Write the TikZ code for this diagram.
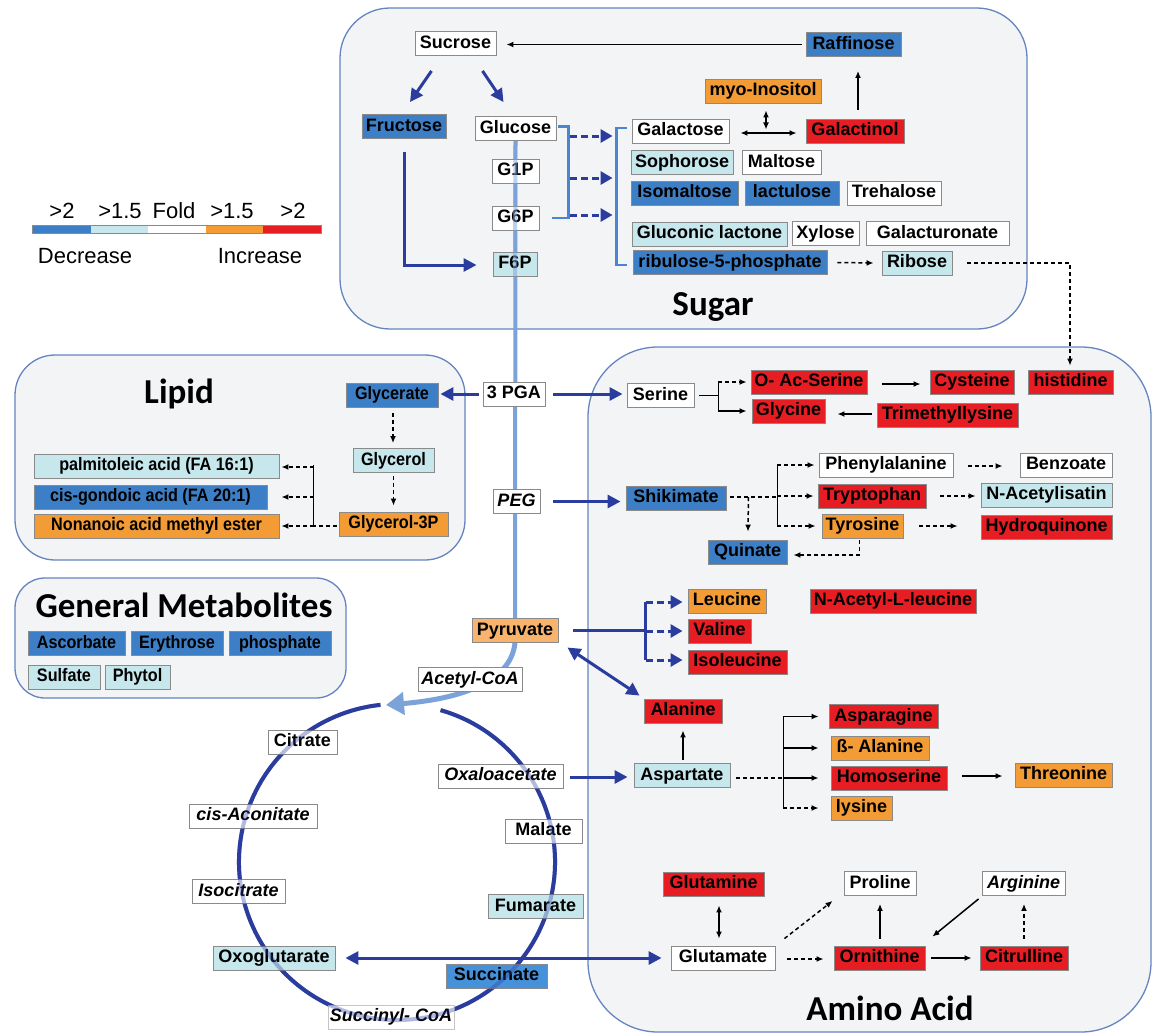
\documentclass[tikz,border=0pt]{standalone}
\usepackage{fontspec}
\usepackage{graphicx}
\setmainfont{Liberation Sans}
\newfontfamily\titlefont{Carlito}
\usetikzlibrary{arrows.meta,calc,backgrounds}
\definecolor{mblue}{HTML}{3D7FC7}
\definecolor{lblue}{HTML}{C6E7EC}
\definecolor{orng}{HTML}{F39B34}
\definecolor{rd}{HTML}{E61E24}
\definecolor{pyrc}{HTML}{F8B46C}
\definecolor{succ}{HTML}{4592DA}
\definecolor{bgray}{HTML}{8A8A8A}
\definecolor{regfill}{HTML}{F3F4F6}
\definecolor{regline}{HTML}{6584C0}
\definecolor{dblue}{HTML}{2A3C9E}
\definecolor{brblue}{HTML}{4A85CF}
\definecolor{pathblue}{HTML}{7CA2DA}
\newcommand{\nar}[1]{\scalebox{0.9}[1]{#1}}
\begin{document}
\begin{tikzpicture}[x=1pt,y=-1pt,
  lab/.style={font=\fontsize{18}{21}\selectfont\bfseries},
  box/.style={draw=bgray, line width=0.9pt, minimum height=24pt, inner sep=0pt,
              text height=13pt, text depth=3.5pt, lab},
  bw/.style={minimum width=#1pt},
  cw/.style={box, fill=white},
  clb/.style={box, fill=lblue},
  cmb/.style={box, fill=mblue},
  cor/.style={box, fill=orng},
  crd/.style={box, fill=rd},
  itl/.style={font=\fontsize{18}{21}\selectfont\bfseries\itshape},
  region/.style={draw=regline, line width=1.3pt, fill=regfill},
  ttl/.style={font=\titlefont\fontsize{35}{40}\selectfont\bfseries, anchor=base, inner sep=0pt},
  leg/.style={font=\fontsize{22}{26}\selectfont, anchor=base, inner sep=0pt},
  bk/.style={line width=1.5pt, -{Latex[length=7pt,width=6pt]}},
  bkd/.style={bk, dash pattern=on 4pt off 3pt},
  bkdbl/.style={line width=1.5pt, {Latex[length=7pt,width=6pt]}-{Latex[length=7pt,width=6pt]}},
  ba/.style={draw=dblue, line width=3pt, -{Triangle[length=13pt,width=13pt]}},
  badbl/.style={draw=dblue, line width=3pt, {Triangle[length=13pt,width=13pt]}-{Triangle[length=13pt,width=13pt]}},
  bad/.style={draw=dblue, line width=3pt, dash pattern=on 7pt off 4pt, -{Triangle[length=12pt,width=13pt]}},
  bline/.style={draw=dblue, line width=3pt},
  kline/.style={line width=1.5pt},
  brk/.style={draw=brblue, line width=2.5pt}
]
\useasboundingbox (0,0) rectangle (1152,1034);

% ---------- legend ----------
\node[leg] (l1) at (62,218) {>2};
\node[leg] (l2) at (120,218) {>1.5};
\node[leg] (l3) at (174,218) {Fold};
\node[leg] (l4) at (232,218) {>1.5};
\node[leg] (l5) at (293,218) {>2};
\node[leg] (l6) at (85,263) {Decrease};
\node[leg] (l7) at (260,263) {Increase};
\fill[mblue] (32,225) rectangle (91,233);
\fill[lblue] (91,225) rectangle (148,233);
\fill[white] (148,225) rectangle (206,233);
\fill[orng] (206,225) rectangle (263,233);
\fill[rd] (263,225) rectangle (321,233);
\draw[bgray, line width=0.8pt] (32,225) rectangle (321,233);

% ---------- titles ----------
\node[ttl] (tsug) at (713,315) {Sugar};
\node[ttl] (tlip) at (179,403) {Lipid};
\node[ttl] (tgen) at (184,617) {General Metabolites};
\node[ttl] (tami) at (890,1020) {Amino Acid};

% ---------- sugar ----------
\node[cw, bw=81] (suc) at (455.5,43.5) {Sucrose};
\node[cmb, bw=95] (raf) at (853.5,44.5) {Raffinose};
\node[cor, bw=116] (myo) at (763,91) {myo-Inositol};
\node[cmb, bw=84] (fru) at (404,126.5) {Fructose};
\node[cw, bw=81] (glc) at (515.5,128.5) {Glucose};
\node[cw, bw=47] (g1p) at (515.5,171) {G1P};
\node[cw, bw=47] (g6p) at (515.5,218) {G6P};
\node[clb, bw=44] (f6p) at (515,264) {F6P};
\node[cw, bw=97] (gal) at (680.5,131) {Galactose};
\node[crd, bw=98] (gol) at (855,131) {Galactinol};
\node[clb, bw=102] (sop) at (682,162.5) {Sophorose};
\node[cw, bw=79] (mal) at (781.5,162.5) {Maltose};
\node[cmb, bw=107] (iso) at (684.5,193) {Isomaltose};
\node[cmb, bw=94] (lac) at (792,193) {lactulose};
\node[cw, bw=94] (tre) at (894,193) {Trehalose};
\node[clb, bw=155] (glcl) at (709.5,234) {Gluconic lactone};
\node[cw, bw=67] (xyl) at (825.5,233.5) {Xylose};
\node[cw, bw=143] (galu) at (937.5,233.5) {Galacturonate};
\node[cmb, bw=194] (r5p) at (730,262.5) {ribulose-5-phosphate};
\node[clb, bw=70] (rib) at (917,263) {Ribose};

% ---------- lipid ----------
\node[cmb, bw=92] (gly) at (392,395) {\nar{Glycerate}};
\node[clb, bw=81] (glo) at (393.5,460.5) {\nar{Glycerol}};
\node[cor, bw=109] (g3p) at (393.5,524) {\nar{Glycerol-3P}};
\node[clb, bw=245] (pal) at (156.5,466) {\nar{palmitoleic acid (FA 16:1)}};
\node[cmb, bw=233] (cis) at (150.5,497) {\nar{cis-gondoic acid (FA 20:1)}};
\node[cor, bw=245] (non) at (156.5,526) {\nar{Nonanoic acid methyl ester}};

% ---------- general ----------
\node[cmb, bw=97] (asc) at (76.5,643.5) {\nar{Ascorbate}};
\node[cmb, bw=92] (ery) at (177,643.5) {\nar{Erythrose}};
\node[cmb, bw=102] (pho) at (280,643.5) {\nar{phosphate}};
\node[clb, bw=72] (sul) at (64,677) {\nar{Sulfate}};
\node[clb, bw=65] (phy) at (137.5,677) {\nar{Phytol}};

% ---------- central ----------
\node[cw, bw=62] (pga) at (514,394) {3 PGA};
\node[cw, bw=47, itl] (peg) at (516.5,501.5) {PEG};
\node[box, fill=pyrc, bw=86] (pyr) at (515,630.5) {Pyruvate};
\node[cw, bw=104, itl] (acc) at (470,679.5) {Acetyl-CoA};

% ---------- amino acid ----------
\node[cw, bw=67] (ser) at (660.5,395.5) {Serine};
\node[crd, bw=116] (oac) at (809,382) {O- Ac-Serine};
\node[crd, bw=73] (gcn) at (788.5,411) {Glycine};
\node[crd, bw=84] (cys) at (972,382) {Cysteine};
\node[crd, bw=85] (his) at (1070.5,382) {histidine};
\node[crd, bw=141] (tml) at (947.5,415) {Trimethyllysine};
\node[cmb, bw=100] (shi) at (676,498) {Shikimate};
\node[cmb, bw=79] (qui) at (747.5,552) {Quinate};
\node[cw, bw=134] (phe) at (886,465) {Phenylalanine};
\node[crd, bw=108] (trp) at (872,496) {Tryptophan};
\node[cor, bw=81] (tyr) at (862.5,526) {Tyrosine};
\node[cw, bw=92] (ben) at (1066,465) {Benzoate};
\node[clb, bw=131] (nai) at (1046.5,495) {N-Acetylisatin};
\node[crd, bw=131] (hyd) at (1046.5,527) {Hydroquinone};
\node[cor, bw=78] (leu) at (727,601) {Leucine};
\node[crd, bw=63] (val) at (719.5,631) {Valine};
\node[crd, bw=99] (ile) at (737.5,662) {Isoleucine};
\node[crd, bw=166] (nal) at (893,601) {N-Acetyl-L-leucine};
\node[crd, bw=78] (ala) at (683,711) {Alanine};
\node[clb, bw=96] (asp) at (682,775.5) {Aspartate};
\node[crd, bw=109] (asn) at (883.5,716.5) {Asparagine};
\node[cor, bw=98] (bal) at (880,748) {ß- Alanine};
\node[crd, bw=116] (hse) at (889,778) {Homoserine};
\node[cor, bw=61] (lys) at (861.5,808) {lysine};
\node[cor, bw=97] (thr) at (1063.5,775) {Threonine};
\node[crd, bw=101] (gln) at (713.5,884) {Glutamine};
\node[cw, bw=104] (glu) at (723,958) {Glutamate};
\node[cw, bw=72] (pro) at (880,883.5) {Proline};
\node[cw, bw=83, itl] (arg) at (1023.5,883.5) {Arginine};
\node[crd, bw=91] (orn) at (879.5,958) {Ornithine};
\node[crd, bw=88] (cit) at (1024,958) {Citrulline};

% ---------- TCA ----------
\coordinate (tca) at (397,862);
\coordinate (acin) at ($(tca)+(-11,-157)$);
\node[cw, bw=69] (ctr) at (302.5,742) {Citrate};
\node[cw, bw=128, itl] (aco) at (253,816) {cis-Aconitate};
\node[cw, bw=93, itl] (isc) at (238.5,891.5) {Isocitrate};
\node[clb, bw=122] (oxg) at (274,958) {Oxoglutarate};
\node[cw, bw=126, itl, draw=bgray!50] (sca) at (391,1017) {Succinyl- CoA};
\node[box, fill=succ, bw=101] (scn) at (496.5,976) {Succinate};
\node[clb, bw=95] (fum) at (535.5,906.5) {Fumarate};
\node[cw, bw=77] (mla) at (543.5,831) {Malate};
\node[cw, bw=125, itl] (oaa) at (500.5,776) {Oxaloacetate};

% ---------- background: regions and main lines ----------
\begin{pgfonlayer}{background}
\draw[region, rounded corners=50pt] (340,8) rectangle (1027,329);
\draw[region, rounded corners=40pt] (15,355) rectangle (465,560);
\draw[region, rounded corners=30pt] (15,578) rectangle (346,698);
\draw[region, rounded corners=70pt] (588,347) rectangle (1151,1032);
\draw[pathblue, line width=4pt] (glc.south) -- (pyr.center);
\draw[pathblue, line width=5pt, -{Triangle[length=18pt,width=22pt]}]
  (pyr.south) .. controls ($(pyr.south)+(-3,30)$) and ($(acin)+(94,-8)$) .. (acin);
\draw[dblue, line width=4pt] (tca) ++(-74:158) arc[start angle=-74, end angle=264, radius=158];
\end{pgfonlayer}

% ---------- see-through overlays of the main lines ----------
\draw[dblue, line width=4pt, opacity=0.35] (tca) ++(-74:158) arc[start angle=-74, end angle=264, radius=158];
\draw[pathblue, line width=4pt, opacity=0.5] (glc.south) -- (f6p.south);

% ---------- sugar connectors ----------
\draw[bk] ($(raf.west)+(-4,0)$) -- ($(suc.east)+(10,1)$);
\draw[ba] ($(suc.south)+(-24,15)$) -- ($(fru.north)+(6,-12)$);
\draw[ba] ($(suc.south)+(27,15)$) -- ($(glc.north)+(-12,-14)$);
\draw[ba] ($(fru.south)+(0,13)$) |- ($(f6p.west)+(-16,1)$);
\draw[brk] ($(glc.east)+(2,-2)$) -- ++(10,0) |- ($(g6p.east)+(13,0)$);
\draw[bad] ($(glc.east)+(14,7.5)$) -- ($(gal.west)+(-19,5)$);
\draw[bad] ($(glc.east)+(14,49.5)$) -- ($(sop.west)+(-18,15.5)$);
\draw[bad] ($(g6p.east)+(31,-3)$) -- ($(iso.west)+(-18,22)$);
\draw[brk] ($(gal.west)+(-5,-3)$) -- ++(-10,0) |- ($(r5p.west)+(-6,2.5)$);
\draw[bkd] ($(r5p.east)+(10,0)$) -- ($(rib.west)+(-8,0)$);
\draw[bkd] ($(rib.east)+(15,0)$) -| ($(his.north)+(-0.5,-4)$);
\draw[bkdbl] ($(gal.east)+(11,2)$) -- ($(gol.west)+(-9,2)$);
\draw[bkdbl] ($(myo.south)+(3,7)$) -- ($(myo.south)+(3,26)$);
\draw[bk] ($(gol.north)+(3,-9)$) -- ($(raf.south)+(4.5,14)$);

% ---------- lipid connectors ----------
\draw[bkd] ($(gly.south)+(1,6)$) -- ($(glo.north)+(-0.5,-5)$);
\draw[bkd] ($(glo.south)+(0,3)$) -- ($(g3p.north)+(0,-6)$);
\coordinate (lb) at ($(g3p.west)+(-25,2)$);
\draw[kline, dash pattern=on 4pt off 3pt] ($(g3p.west)+(-2,2)$) -- (lb);
\draw[kline] (lb) -- ($(lb)+(0,-61)$);
\draw[bkd] ($(lb |- pal.east)+(0,1)$) -- ($(pal.east)+(2,1)$);
\draw[bkd] (lb |- cis.east) -- ($(cis.east)+(14,0)$);
\draw[bkd] (lb) -- ($(non.east |- lb)+(2,0)$);

% ---------- central connectors ----------
\draw[ba] ($(pga.west)+(-4,0)$) -- ($(gly.east |- pga.west)+(2,0)$);
\draw[ba] ($(pga.east)+(8,0)$) -- ($(ser.west |- pga.east)+(-4,0)$);
\draw[ba] ($(peg.east)+(13,0)$) -- ($(shi.west |- peg.east)+(-5,0)$);
\draw[bline] ($(pyr.east)+(15,0)$) -- ($(val.west |- pyr.east)+(-42,0)$);
\draw[bline] ($(leu.west)+(-42,1)$) -- ($(ile.west)+(-42,-2)$);
\draw[bad] ($(leu.west)+(-42,1)$) -- ($(leu.west)+(-5,1)$);
\draw[bad] ($(val.west)+(-42,0)$) -- ($(val.west)+(-5,0)$);
\draw[bad] ($(ile.west)+(-42,-2)$) -- ($(ile.west)+(-5,-2)$);
\draw[badbl] ($(pyr.east)+(9,17)$) -- ($(ala.north west)+(-4,-3)$);
\draw[ba] ($(oaa.east)+(7,1)$) -- ($(asp.west |- oaa.east)+(-6,1)$);
\draw[badbl] ($(oxg.east)+(10,0)$) -- ($(glu.west)+(-9,0)$);

% ---------- amino connectors ----------
\coordinate (sb) at ($(ser.east)+(24,0)$);
\draw[kline] ($(ser.east)+(5,0)$) -- (sb);
\draw[kline] (sb |- oac.west) -- (sb |- gcn.west);
\draw[bkd] (sb |- oac.west) -- ($(oac.west)+(-4,0)$);
\draw[bk] (sb |- gcn.west) -- ($(gcn.west)+(-5,0)$);
\draw[bk] ($(oac.east)+(15,2)$) -- ($(cys.west)+(-9,2)$);
\draw[bk] ($(tml.west)+(-5,-1)$) -- ($(gcn.east |- tml.west)+(12,-1)$);

\coordinate (kb) at ($(shi.east)+(51,-1)$);
\draw[kline, dash pattern=on 4pt off 3pt] ($(shi.east)+(4,-1)$) -- (kb);
\draw[kline] (kb |- phe.west) -- (kb |- tyr.west);
\draw[bkd] (kb |- phe.west) -- ($(phe.west)+(-4,0)$);
\draw[bkd] (kb |- trp.west) -- ($(trp.west)+(-4,0)$);
\draw[bkd] (kb |- tyr.west) -- ($(tyr.west)+(-6,0)$);
\draw[bkd] ($(shi.east)+(22,-1)$) -- ($(qui.north)+(0.5,-8)$);
\draw[bkd] ($(tyr.south)+(-3,2)$) |- ($(qui.east)+(6,3)$);
\draw[bkd] ($(phe.east)+(15,1)$) -- ($(ben.west)+(-17,1)$);
\draw[bkd] ($(trp.east)+(14,0)$) -- ($(nai.west |- trp.east)+(-5,0)$);
\draw[bkd] ($(tyr.east)+(16,0)$) -- ($(hyd.west |- tyr.east)+(-23,0)$);

\draw[bk] ($(asp.north)+(1,-3)$) -- ($(ala.south)+(0,7)$);
\coordinate (ab) at ($(asp.east)+(53,2.5)$);
\draw[kline, dash pattern=on 4pt off 3pt] ($(asp.east)+(6,2.5)$) -- (ab);
\draw[kline] (ab |- asn.west) -- (ab |- lys.west);
\draw[bk] (ab |- asn.west) -- ($(asn.west)+(-10,0)$);
\draw[bk] (ab |- bal.west) -- ($(bal.west)+(-12,0)$);
\draw[bk] (ab |- hse.west) -- ($(hse.west)+(-12,0)$);
\draw[bkd] (ab |- lys.west) -- ($(lys.west)+(-12,0)$);
\draw[bk] ($(hse.east)+(15,-2)$) -- ($(thr.west |- hse.east)+(-12,-2)$);

\draw[bkdbl] ($(gln.south)+(5.5,9)$) -- ($(glu.north)+(-4,-7)$);
\draw[bkd] ($(glu.east)+(12,1)$) -- ($(orn.west)+(-10,1)$);
\draw[bkd] ($(glu.north east)+(9,-7)$) -- ($(pro.south west)+(-11,5)$);
\draw[bk] ($(orn.north)+(0.5,-7)$) -- ($(pro.south)+(0,8)$);
\draw[bk] ($(arg.south west)+(-3,3)$) -- ($(orn.north east)+(7,-9)$);
\draw[bk] ($(orn.east)+(6,0)$) -- ($(cit.west)+(-8,0)$);
\draw[bkd] ($(cit.north)+(0,-7)$) -- ($(arg.south)+(0.5,8)$);
\end{tikzpicture}
\end{document}
